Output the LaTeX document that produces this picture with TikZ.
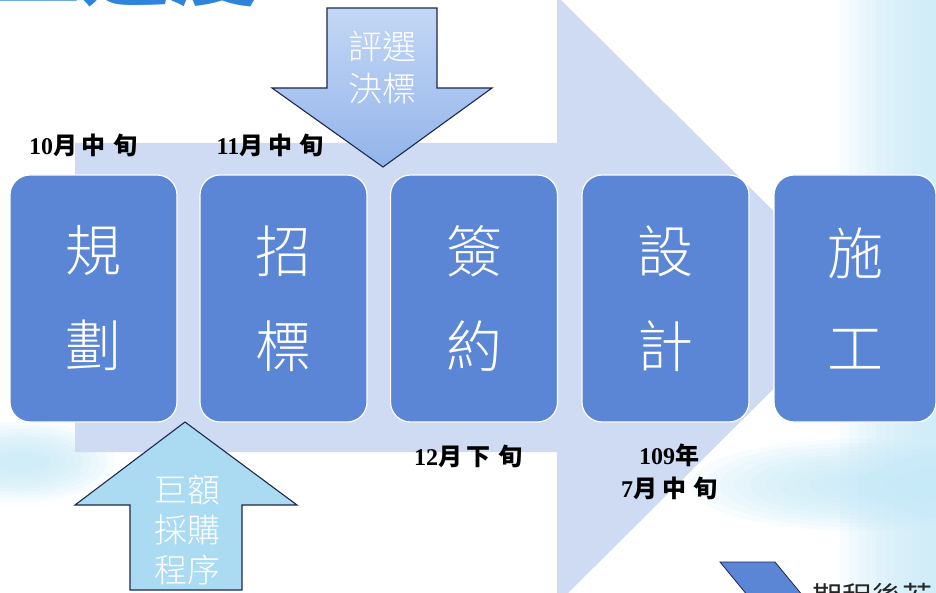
\documentclass[tikz,border=0pt]{standalone}
\usepackage{fontspec}
\setmainfont{Liberation Serif}
\newfontfamily\cjk{Noto Sans CJK TC}
\newfontfamily\cjkl{Noto Sans CJK TC Light}
\definecolor{chev}{RGB}{206,219,242}
\definecolor{boxblue}{RGB}{91,134,214}
\definecolor{dnTop}{RGB}{196,215,245}
\definecolor{dnBot}{RGB}{146,180,234}
\definecolor{upfill}{RGB}{170,219,243}
\definecolor{outl}{RGB}{28,40,78}
\definecolor{cyanlt}{RGB}{196,234,248}
\definecolor{titleblue}{RGB}{46,132,218}
\newcommand\DLab[2]{{\bfseries #1}{\cjk\bfseries #2}}
\tikzset{
  stage/.style={rounded corners=20pt, fill=boxblue, draw=white, line width=1.2pt,
    minimum width=167pt, minimum height=247pt, text=white, align=center, inner sep=0pt,
    font=\cjkl\fontsize{56}{95}\selectfont},
  arrline/.style={draw=outl, line width=1.1pt, line join=miter},
  arrtext/.style={text=white, align=center, inner sep=0pt},
  datef/.style={text=black, align=center, inner sep=0pt, font=\fontsize{24}{33}\selectfont},
  tint/.style={fill=cyanlt, fill opacity=0.12, draw=none}
}
\begin{document}
\begin{tikzpicture}[x=1pt,y=-1pt]
\useasboundingbox (0,0) rectangle (936,593);
\clip (0,0) rectangle (936,593);
\fill[white] (0,0) rectangle (936,593);
% photo tint
\foreach \i in {0,...,9} {
  \fill[tint] (840+\i*9,0) rectangle (936,593);
  \fill[tint] (860,485) ellipse ({170-\i*15} and {46-\i*4});
  \fill[tint] (20,462) ellipse ({95-\i*8} and {40-\i*3.5});
}
% big background chevron
\fill[chev] (75,143) -- (557,143) -- (557,-4) -- (863,300) -- (557,604) -- (557,452) -- (75,452) -- cycle;
% title (cut off)
\node[anchor=base west, inner sep=0pt, text=titleblue,
  font=\cjk\bfseries\fontsize{90}{90}\selectfont] (title) at (-100,-1.5) {施工進度};
% stages
\node[stage] (b1) at (93.5,298.5) {規\\劃};
\node[stage] (b2) at (283.5,298.5) {招\\標};
\node[stage] (b3) at (474,298.5) {簽\\約};
\node[stage] (b4) at (665.5,298.5) {設\\計};
\node[stage, minimum width=162pt] (b5) at (855,298.5) {施\\工};
% down arrow
\draw[arrline, top color=dnTop, bottom color=dnBot]
  (327,8) -- (437,8) -- (437,88) -- (492,88) -- (383,167) -- (272,88) -- (327,88) -- cycle;
\node[arrtext, font=\cjkl\fontsize{34}{42}\selectfont] (pick) at (382,68) {評選\\決標};
% up arrow
\draw[arrline, fill=upfill]
  (185,422) -- (297,505) -- (242,505) -- (242,590) -- (130,590) -- (130,505) -- (75,505) -- cycle;
\node[arrtext, font=\cjkl\fontsize{33}{40}\selectfont] (big) at (187,530) {巨額\\採購\\程序};
% dates
\node[datef] (d1) at (83,145) {\DLab{10}{月\kern5pt 中\kern7pt 旬}};
\node[datef] (d2) at (270,145) {\DLab{11}{月\kern5pt 中\kern7pt 旬}};
\node[datef] (d3) at (468,456) {\DLab{12}{月\kern5pt 下\kern7pt 旬}};
\node[datef] (d4) at (669,472) {\DLab{109}{年}\\\DLab{7}{月\kern5pt 中\kern7pt 旬}};
% bottom-right note (cut off)
\draw[line width=0.8pt, draw=outl, fill=boxblue]
  (720,562) -- (775,562) -- (803,596) -- (775,630) -- (720,630) -- (748,596) -- cycle;
\node[anchor=west, inner sep=0pt, text=black!85, font=\cjk\fontsize{30}{30}\selectfont] (note) at (812,597) {期程後若};
\end{tikzpicture}
\end{document}
